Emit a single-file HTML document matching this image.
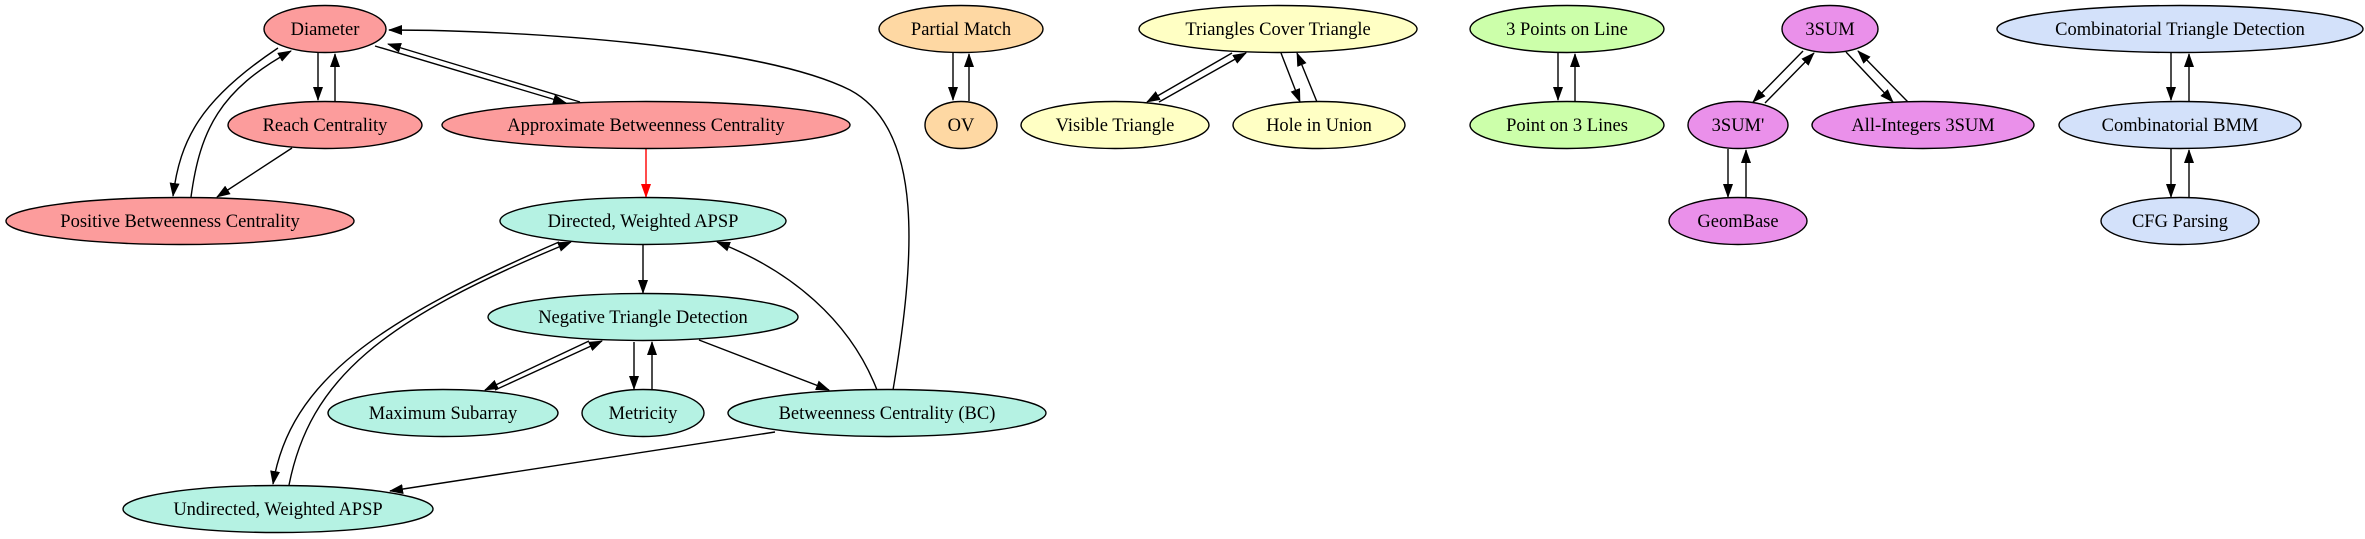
<!DOCTYPE html>
<html><head><meta charset="utf-8"><style>html,body{margin:0;padding:0;background:#fff}svg{display:block}</style></head><body>
<svg width="2365" height="539" viewBox="0 0 2365 539" xmlns="http://www.w3.org/2000/svg">
<defs>
<marker id="a" markerWidth="14" markerHeight="10" refX="13" refY="5" orient="auto" markerUnits="userSpaceOnUse"><path d="M0,0 L14,5 L0,10 Z" fill="#000"/></marker>
<marker id="r" markerWidth="14" markerHeight="10" refX="13" refY="5" orient="auto" markerUnits="userSpaceOnUse"><path d="M0,0 L14,5 L0,10 Z" fill="#f00"/></marker>
</defs>
<g fill="none" stroke="#000" stroke-width="1.4" marker-end="url(#a)">
<path d="M318,53 L318,100"/><path d="M335,101 L335,54"/>
<path d="M278,48 C200,100 180,140 173,196"/>
<path d="M191,197 C200,130 220,90 291,51"/>
<path d="M292,148 L217,197"/>
<path d="M375,46 L566,103"/>
<path d="M580,102 L388,44"/>
<path d="M643,245 L643,293"/>
<path d="M559,242 C380,320 290,380 273,484"/>
<path d="M289,485 C310,380 380,320 571,242"/>
<path d="M589,341 L485,390"/>
<path d="M495,390 L602,341"/>
<path d="M634,342 L634,389"/><path d="M652,389 L652,342"/>
<path d="M699,340 L829,390"/>
<path d="M775,432 L390,491"/>
<path d="M877,390 C850,320 790,270 717,242"/>
<path d="M893,390 C915,260 925,130 850,90 C760,45 520,30 389,30"/>
<path d="M953,53 L953,100"/><path d="M969,101 L969,54"/>
<path d="M1232,53 L1147,102"/><path d="M1159,102 L1246,53"/>
<path d="M1281,53 L1300,102"/><path d="M1317,102 L1297,53"/>
<path d="M1558,53 L1558,100"/><path d="M1575,101 L1575,54"/>
<path d="M1803,51 L1753,102"/><path d="M1765,103 L1814,53"/>
<path d="M1846,52 L1893,102"/><path d="M1908,102 L1858,51"/>
<path d="M1728,149 L1728,197"/><path d="M1746,197 L1746,150"/>
<path d="M2171,53 L2171,100"/><path d="M2189,101 L2189,54"/>
<path d="M2171,149 L2171,197"/><path d="M2189,197 L2189,150"/>
</g>
<path d="M646,149 L646,197" stroke="#f00" stroke-width="1.4" fill="none" marker-end="url(#r)"/>
<g stroke="#000" stroke-width="1.4">
<ellipse cx="325" cy="29" rx="61" ry="23.5" fill="#fc9c9c"/>
<ellipse cx="325" cy="125" rx="97" ry="23.5" fill="#fc9c9c"/>
<ellipse cx="646" cy="125" rx="204" ry="23.5" fill="#fc9c9c"/>
<ellipse cx="180" cy="221" rx="174" ry="23.5" fill="#fc9c9c"/>
<ellipse cx="643" cy="221" rx="143" ry="23.5" fill="#b5f2e3"/>
<ellipse cx="643" cy="317" rx="155" ry="23.5" fill="#b5f2e3"/>
<ellipse cx="443" cy="413" rx="115" ry="23.5" fill="#b5f2e3"/>
<ellipse cx="643" cy="413" rx="61" ry="23.5" fill="#b5f2e3"/>
<ellipse cx="887" cy="413" rx="159" ry="23.5" fill="#b5f2e3"/>
<ellipse cx="278" cy="509" rx="155" ry="23.5" fill="#b5f2e3"/>
<ellipse cx="961" cy="29" rx="82" ry="23.5" fill="#fed8a3"/>
<ellipse cx="961" cy="125" rx="36" ry="23.5" fill="#fed8a3"/>
<ellipse cx="1278" cy="29" rx="139" ry="23.5" fill="#ffffc4"/>
<ellipse cx="1115" cy="125" rx="94" ry="23.5" fill="#ffffc4"/>
<ellipse cx="1319" cy="125" rx="86" ry="23.5" fill="#ffffc4"/>
<ellipse cx="1567" cy="29" rx="97" ry="23.5" fill="#ccffaa"/>
<ellipse cx="1567" cy="125" rx="97" ry="23.5" fill="#ccffaa"/>
<ellipse cx="1830" cy="29" rx="48" ry="23.5" fill="#ea90ea"/>
<ellipse cx="1738" cy="125" rx="50" ry="23.5" fill="#ea90ea"/>
<ellipse cx="1923" cy="125" rx="111" ry="23.5" fill="#ea90ea"/>
<ellipse cx="1738" cy="221" rx="69" ry="23.5" fill="#ea90ea"/>
<ellipse cx="2180" cy="29" rx="183" ry="23.5" fill="#d3e1fa"/>
<ellipse cx="2180" cy="125" rx="121" ry="23.5" fill="#d3e1fa"/>
<ellipse cx="2180" cy="221" rx="79" ry="23.5" fill="#d3e1fa"/>
</g>
<g font-family="Liberation Serif, serif" font-size="18.5" text-anchor="middle" fill="#000">
<text x="325" y="35">Diameter</text>
<text x="325" y="131">Reach Centrality</text>
<text x="646" y="131">Approximate Betweenness Centrality</text>
<text x="180" y="227">Positive Betweenness Centrality</text>
<text x="643" y="227">Directed, Weighted APSP</text>
<text x="643" y="323">Negative Triangle Detection</text>
<text x="443" y="419">Maximum Subarray</text>
<text x="643" y="419">Metricity</text>
<text x="887" y="419">Betweenness Centrality (BC)</text>
<text x="278" y="515">Undirected, Weighted APSP</text>
<text x="961" y="35">Partial Match</text>
<text x="961" y="131">OV</text>
<text x="1278" y="35">Triangles Cover Triangle</text>
<text x="1115" y="131">Visible Triangle</text>
<text x="1319" y="131">Hole in Union</text>
<text x="1567" y="35">3 Points on Line</text>
<text x="1567" y="131">Point on 3 Lines</text>
<text x="1830" y="35">3SUM</text>
<text x="1738" y="131">3SUM'</text>
<text x="1923" y="131">All-Integers 3SUM</text>
<text x="1738" y="227">GeomBase</text>
<text x="2180" y="35">Combinatorial Triangle Detection</text>
<text x="2180" y="131">Combinatorial BMM</text>
<text x="2180" y="227">CFG Parsing</text>
</g>
</svg>
</body></html>
